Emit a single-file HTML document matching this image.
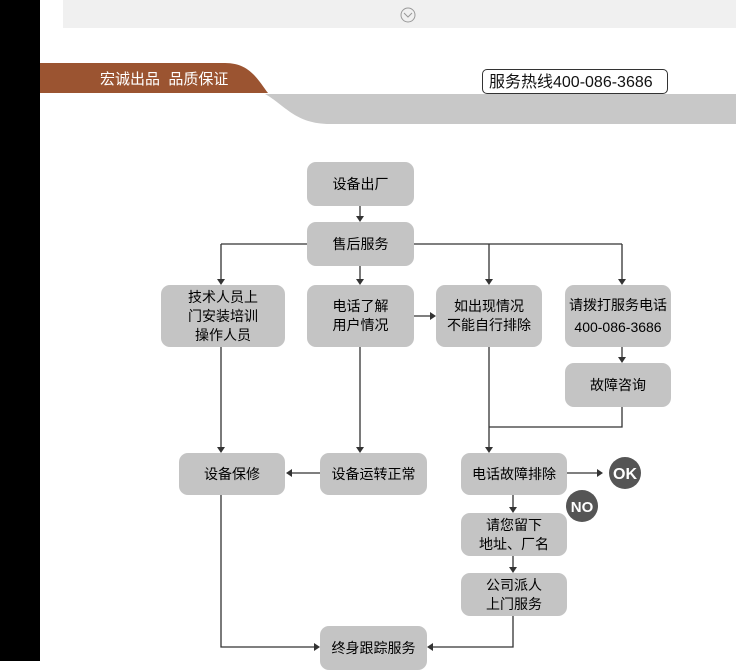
<!DOCTYPE html>
<html><head><meta charset="utf-8"><style>
body{margin:0;width:736px;height:661px;overflow:hidden;background:#fff;position:relative;font-family:"Liberation Sans","Noto Sans CJK SC",sans-serif}
.b{position:absolute;background:#c4c4c4;border-radius:9px;display:flex;align-items:center;justify-content:center;text-align:center;font-size:14px;line-height:19px;color:#000}
</style></head><body>
<div style="position:absolute;left:0;top:0;width:40px;height:661px;background:#000"></div>
<div style="position:absolute;left:63px;top:0;width:673px;height:28px;background:#f0f0f0"></div>
<svg style="position:absolute;left:0;top:0" width="736" height="661">
<circle cx="408" cy="15" r="7" fill="none" stroke="#999"/><path d="M404 13l4 4 4-4" fill="none" stroke="#999"/>
<path d="M40 63H225C250 63 258 80 268 93H40Z" fill="#9b5431"/>
<path d="M265 94H736V124H330C295 124 285 105 265 94Z" fill="#c8c8c8"/>
<g stroke="#333" stroke-width="1.3" fill="none">
<path d="M360 206V218M221 244H622M221 244V281M360 266V281M489 244V281M622 244V281M414 316H432M622 347V359M622 407V427H489M489 347V449M360 347V449M221 347V449M320 473H290M567 473H599M513 495V509M513 556V569M221 495V647H316M513 616V647H431"/>
</g>
<g fill="#333">
<path d="M356 216h8l-4 6z"/><path d="M217 279h8l-4 6z"/><path d="M356 279h8l-4 6z"/><path d="M485 279h8l-4 6z"/><path d="M618 279h8l-4 6z"/>
<path d="M430 312v8l6-4z"/><path d="M618 357h8l-4 6z"/><path d="M485 447h8l-4 6z"/><path d="M356 447h8l-4 6z"/><path d="M217 447h8l-4 6z"/>
<path d="M292 469v8l-6-4z"/><path d="M597 469v8l6-4z"/><path d="M509 507h8l-4 6z"/><path d="M509 567h8l-4 6z"/>
<path d="M314 643v8l6-4z"/><path d="M433 643v8l-6-4z"/>
</g>
<circle cx="625" cy="473" r="16" fill="#555"/><text x="625" y="479" fill="#fff" font-size="16" font-weight="bold" text-anchor="middle" font-family="Liberation Sans">OK</text>
<circle cx="582" cy="506" r="16" fill="#555"/><text x="582" y="512" fill="#fff" font-size="15" font-weight="bold" text-anchor="middle" font-family="Liberation Sans">NO</text>
</svg>
<div style="position:absolute;left:100px;top:68px;color:#fff;font-size:15px">宏诚出品&nbsp;&nbsp;品质保证</div>
<div style="position:absolute;left:482px;top:69px;width:186px;height:25px;border:1px solid #333;border-radius:5px;background:#fff;font-size:16px;line-height:25px;color:#111;padding-left:6px;box-sizing:border-box;white-space:nowrap">服务热线400-086-3686</div>
<div class="b" style="left:307px;top:162px;width:107px;height:44px">设备出厂</div>
<div class="b" style="left:307px;top:222px;width:107px;height:44px">售后服务</div>
<div class="b" style="left:161px;top:285px;width:124px;height:62px">技术人员上<br>门安装培训<br>操作人员</div>
<div class="b" style="left:307px;top:285px;width:107px;height:62px">电话了解<br>用户情况</div>
<div class="b" style="left:436px;top:285px;width:106px;height:62px">如出现情况<br>不能自行排除</div>
<div class="b" style="left:565px;top:285px;width:106px;height:62px;line-height:22px">请拨打服务电话<br>400-086-3686</div>
<div class="b" style="left:565px;top:363px;width:106px;height:44px">故障咨询</div>
<div class="b" style="left:179px;top:453px;width:106px;height:42px">设备保修</div>
<div class="b" style="left:320px;top:453px;width:107px;height:42px">设备运转正常</div>
<div class="b" style="left:461px;top:453px;width:106px;height:42px">电话故障排除</div>
<div class="b" style="left:461px;top:513px;width:106px;height:43px">请您留下<br>地址、厂名</div>
<div class="b" style="left:461px;top:573px;width:106px;height:43px">公司派人<br>上门服务</div>
<div class="b" style="left:320px;top:626px;width:107px;height:44px">终身跟踪服务</div>
</body></html>
